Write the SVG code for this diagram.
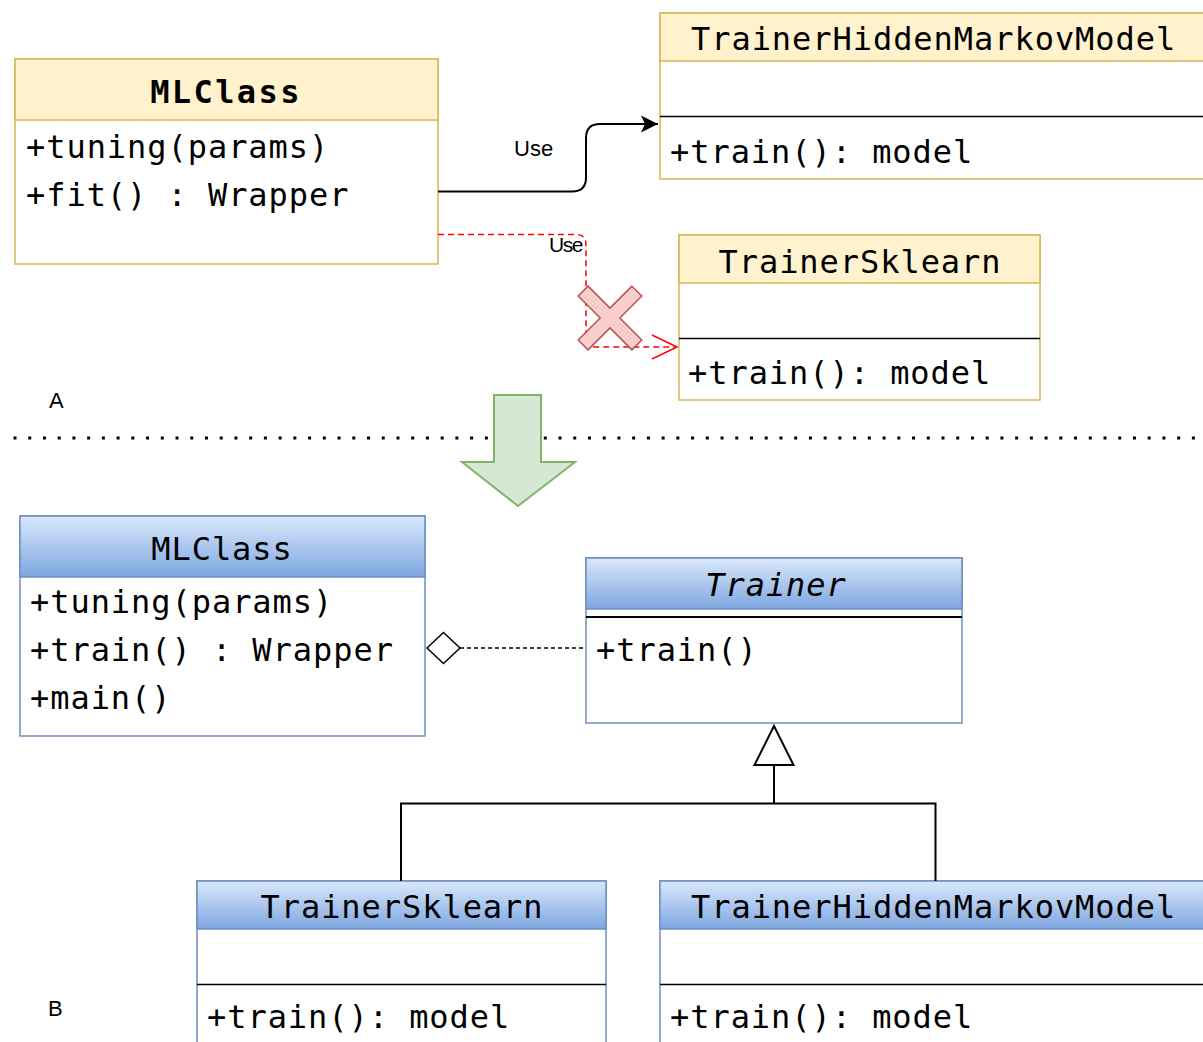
<svg xmlns="http://www.w3.org/2000/svg" width="1203" height="1042" viewBox="0 0 1203 1042">
  <defs>
    <linearGradient id="blueHead" x1="0" y1="0" x2="0" y2="1">
      <stop offset="0" stop-color="#dae8fc"/>
      <stop offset="1" stop-color="#7ea6e0"/>
    </linearGradient>
    <marker id="arrowSolid" markerUnits="userSpaceOnUse" markerWidth="20" markerHeight="20" viewBox="0 0 20 20" refX="17" refY="9" orient="auto">
      <path d="M0,0.5 L17,9 L0,17.5 L4,9 Z" fill="#000"/>
    </marker>
    <marker id="arrowOpenRed" markerUnits="userSpaceOnUse" markerWidth="30" markerHeight="30" viewBox="0 0 30 30" refX="26" refY="15" orient="auto">
      <path d="M1,3 L26,15 L1,27" fill="none" stroke="#ff0000" stroke-width="1.5"/>
    </marker>
  </defs>
  <style>
    .mono { font-family: "DejaVu Sans Mono", "Liberation Mono", monospace; font-size: 32px; letter-spacing: 0.95px; fill: #000; }
    .title { text-anchor: middle; }
    .bold { font-weight: bold; letter-spacing: 2.4px; }
    .ital { font-style: italic; }
    .lbl { font-family: "Liberation Sans", Arial, sans-serif; font-size: 22px; fill: #000; }
    .yBox { fill: #ffffff; stroke: #d6b656; stroke-width: 1.5; }
    .yHead { fill: #fff2cc; stroke: #d6b656; stroke-width: 1.5; }
    .bBox { fill: #ffffff; stroke: #6c8ebf; stroke-width: 1.5; }
    .bHead { fill: url(#blueHead); stroke: #6c8ebf; stroke-width: 1.5; }
    .div { stroke: #000; stroke-width: 1.5; }
  </style>

  <rect width="1203" height="1042" fill="#ffffff"/>

  <!-- section separator -->
  <line x1="13.5" y1="438" x2="1203" y2="438" stroke="#000" stroke-width="3" stroke-dasharray="3 11.73"/>

  <!-- section labels -->
  <text class="lbl" x="49" y="408">A</text>
  <text class="lbl" x="48" y="1016">B</text>

  <!-- refactoring arrow -->
  <g id="refactor-arrow">
    <path d="M494,395 H541 V462 H575 L518,506 L462,462 H494 Z" fill="#d5e8d4" stroke="#82b366" stroke-width="2"/>
  </g>

  <!-- ===== A: before ===== -->
  <g id="a-mlclass">
    <rect class="yBox" x="15" y="59" width="423" height="205"/>
    <rect class="yHead" x="15" y="59" width="423" height="61"/>
    <text class="mono title bold" x="226" y="103">MLClass</text>
    <text class="mono" x="26" y="158">+tuning(params)</text>
    <text class="mono" x="26" y="206">+fit() : Wrapper</text>
  </g>

  <g id="a-trainer-hmm">
    <rect class="yBox" x="660" y="13" width="560" height="166"/>
    <rect class="yHead" x="660" y="13" width="560" height="48"/>
    <text class="mono" x="691" y="50">TrainerHiddenMarkovModel</text>
    <line class="div" x1="660" y1="116.5" x2="1220" y2="116.5"/>
    <text class="mono" x="670" y="163">+train(): model</text>
  </g>

  <g id="a-trainer-sklearn">
    <rect class="yBox" x="679" y="235" width="361" height="165"/>
    <rect class="yHead" x="679" y="235" width="361" height="48"/>
    <text class="mono title" x="860" y="273">TrainerSklearn</text>
    <line class="div" x1="679" y1="338.5" x2="1040" y2="338.5"/>
    <text class="mono" x="688" y="384">+train(): model</text>
  </g>

  <!-- ===== B: after ===== -->
  <g id="b-mlclass">
    <rect class="bBox" x="20" y="516" width="405" height="220"/>
    <rect class="bHead" x="20" y="516" width="405" height="61"/>
    <text class="mono title" x="222" y="560">MLClass</text>
    <text class="mono" x="30" y="613">+tuning(params)</text>
    <text class="mono" x="30" y="661">+train() : Wrapper</text>
    <text class="mono" x="30" y="709">+main()</text>
  </g>

  <g id="b-trainer">
    <rect class="bBox" x="586" y="558" width="376" height="165"/>
    <rect class="bHead" x="586" y="558" width="376" height="51"/>
    <text class="mono title ital" x="776" y="596">Trainer</text>
    <line x1="586" y1="617" x2="962" y2="617" stroke="#000" stroke-width="2"/>
    <text class="mono" x="596" y="661">+train()</text>
  </g>

  <g id="b-trainer-sklearn">
    <rect class="bBox" x="197" y="881" width="409" height="180"/>
    <rect class="bHead" x="197" y="881" width="409" height="48"/>
    <text class="mono title" x="402" y="918">TrainerSklearn</text>
    <line class="div" x1="197" y1="984.5" x2="606" y2="984.5"/>
    <text class="mono" x="207" y="1028">+train(): model</text>
  </g>

  <g id="b-trainer-hmm">
    <rect class="bBox" x="660" y="881" width="560" height="180"/>
    <rect class="bHead" x="660" y="881" width="560" height="48"/>
    <text class="mono" x="691" y="918">TrainerHiddenMarkovModel</text>
    <line class="div" x1="660" y1="984.5" x2="1220" y2="984.5"/>
    <text class="mono" x="670" y="1028">+train(): model</text>
  </g>

  <!-- connectors -->
  <g id="connectors" fill="none">
    <!-- A: use (valid) -->
    <path d="M438,191.5 H572 Q586,191.5 586,177.5 V138 Q586,124 600,124 H658" stroke="#000" stroke-width="2" marker-end="url(#arrowSolid)"/>
    <text class="lbl" x="514" y="156">Use</text>

    <!-- A: use (rejected) -->
    <path d="M438,234.5 H576 Q586,234.5 586,244.5 V337 Q586,347 596,347 H677" stroke="#ff0000" stroke-width="1.5" stroke-dasharray="6 4" marker-end="url(#arrowOpenRed)"/>
    <text class="lbl" x="549" y="252" style="font-size:21px;letter-spacing:-1.5px">Use</text>
    <polygon points="-7,-38 7,-38 7,-7 38,-7 38,7 7,7 7,38 -7,38 -7,7 -38,7 -38,-7 -7,-7" transform="translate(610,318) rotate(45)" fill="#f8cecc" stroke="#b85450" stroke-width="1.5"/>

    <!-- B: aggregation -->
    <line x1="460" y1="648" x2="586" y2="648" stroke="#000" stroke-width="1.5" stroke-dasharray="4 3"/>
    <polygon points="427,648 443.5,632.5 460,648 443.5,663.5" fill="#ffffff" stroke="#000" stroke-width="1.5"/>

    <!-- B: generalization -->
    <polyline points="401,881 401,803.5 935.5,803.5 935.5,881" stroke="#000" stroke-width="2"/>
    <line x1="774" y1="803.5" x2="774" y2="765" stroke="#000" stroke-width="2"/>
    <polygon points="774,726 793.5,765 754.5,765" fill="#ffffff" stroke="#000" stroke-width="2"/>
  </g>
</svg>
